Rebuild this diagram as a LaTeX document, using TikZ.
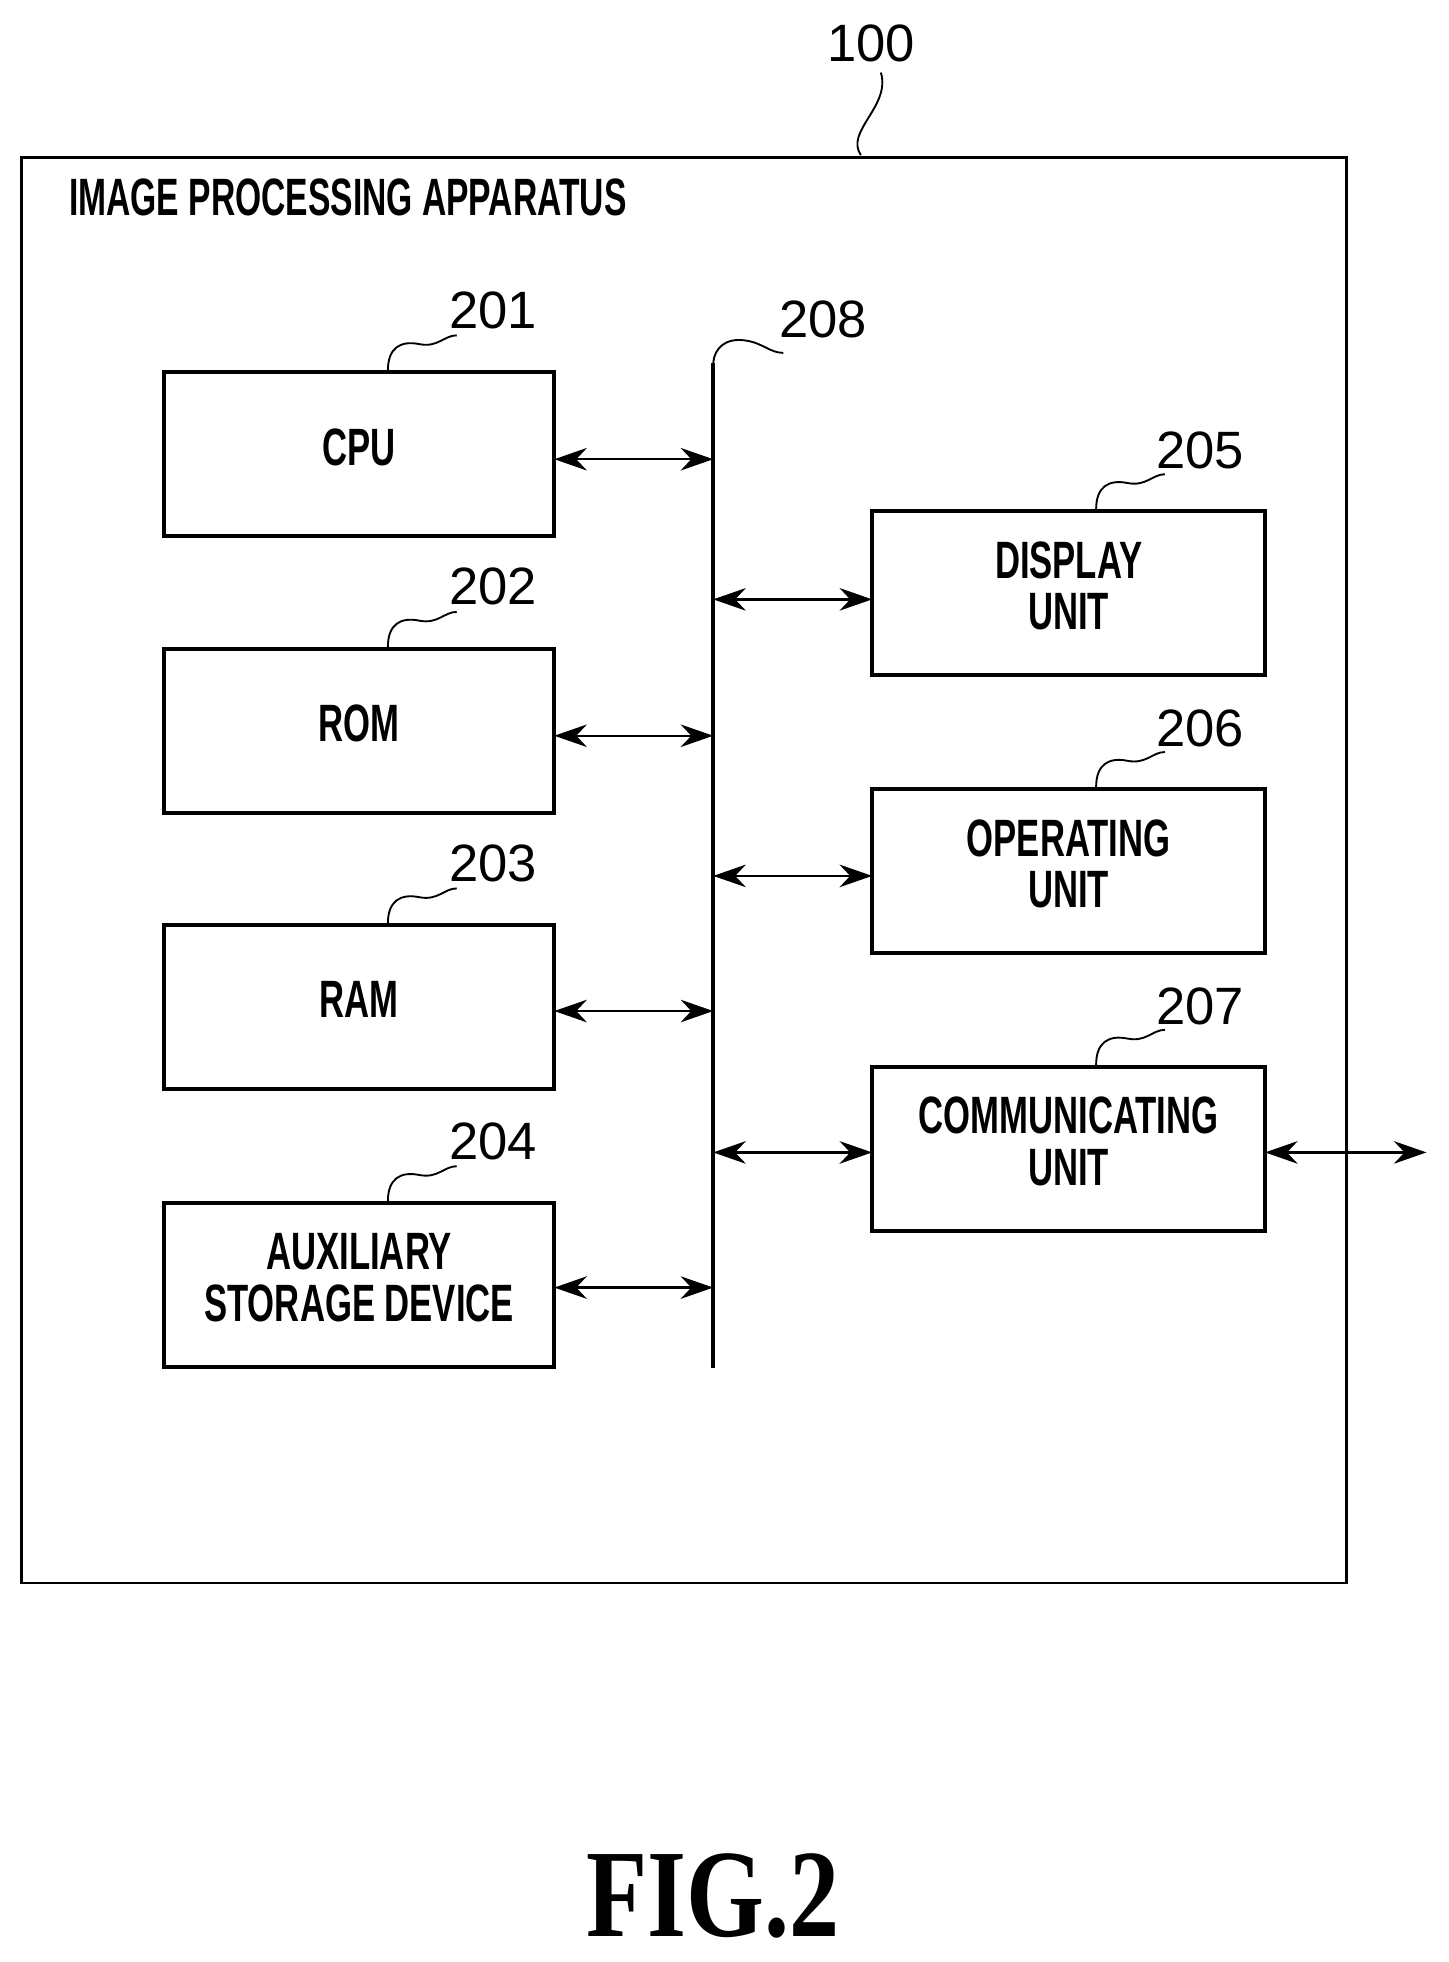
\documentclass[tikz,border=0pt]{standalone}
\usepackage{fontspec}
\setmainfont{Liberation Serif}
\setsansfont{Liberation Sans}
\usetikzlibrary{arrows.meta}
\begin{document}
\begin{tikzpicture}[x=1pt,y=-1pt,
  box/.style={draw,line width=3pt,minimum width=312pt,minimum height=131pt,inner sep=0pt,align=center,font=\sffamily\bfseries\fontsize{42}{40}\selectfont},
  num/.style={font=\sffamily\fontsize{42}{42}\selectfont,inner sep=0pt},
  arr/.style={line width=2pt,{Stealth[length=26pt,width=18pt]}-{Stealth[length=26pt,width=18pt]}},
  sq/.style={line width=1.5pt}]
\useasboundingbox (0,0) rectangle (1158,1568);
\node[draw,line width=2pt,minimum width=1059pt,minimum height=1139pt,inner sep=0pt] (outer) at (546.5,695.5) {};
\node[anchor=west,font=\sffamily\bfseries\fontsize{42}{40}\selectfont,inner sep=0pt] (title) at (55,158) {\scalebox{0.64}[1]{IMAGE PROCESSING APPARATUS}};
\node[num] (n100) at (696,35) {100};
\coordinate (s100) at (688,124);
\draw[sq] (s100) .. controls (675,105) and (712,85) .. (704,58);

\foreach \n/\y/\t/\k/\a in {cpu/363/CPU/201/367, rom/584/ROM/202/588, ram/805/RAM/203/808, aux/1027/{AUXILIARY\\STORAGE DEVICE}/204/1029}{
  \node[box] (\n) at (287,\y) {\scalebox{0.66}[1]{\begin{tabular}{@{}c@{}}\t\end{tabular}}};
  \node[num] (l\n) at (394,\y-115) {\k};
  \draw[sq,shift={(\n.north)},xshift=23pt] (0,0) .. controls (0,-18) and (10,-24) .. (25,-21) .. controls (40,-18) and (45,-28) .. (55,-28);
  \coordinate (a\n) at (443,\a);
  \coordinate (b\n) at (570,\a);
  \draw[arr] (a\n) -- (b\n);
}
\foreach \n/\y/\t/\k/\a in {disp/474/{DISPLAY\\UNIT}/205/479, oper/696/{OPERATING\\UNIT}/206/700, comm/918/{COMMUNICATING\\UNIT}/207/921}{
  \node[box,minimum width=314pt] (\n) at (854,\y) {\scalebox{0.66}[1]{\begin{tabular}{@{}c@{}}\t\end{tabular}}};
  \node[num] (l\n) at (959,\y-114) {\k};
  \draw[sq,shift={(\n.north)},xshift=22pt] (0,0) .. controls (0,-18) and (10,-24) .. (25,-21) .. controls (40,-18) and (45,-28) .. (55,-28);
  \coordinate (a\n) at (570,\a);
  \coordinate (b\n) at (697,\a);
  \draw[arr] (a\n) -- (b\n);
}
\coordinate (bt) at (570,290);
\coordinate (bb) at (570,1093);
\draw[line width=3pt] (bt) -- (bb);
\node[num] (l208) at (658,255) {208};
\draw[sq] (bt) .. controls (571,278) and (580,270) .. (595,272) .. controls (610,274) and (615,282) .. (626,282);
\coordinate (ce) at (1011,921);
\coordinate (ext) at (1140,921);
\draw[arr] (ce) -- (ext);
\node[font=\bfseries\fontsize{100}{100}\selectfont,inner sep=0pt] (fig) at (570,1515) {\scalebox{0.8}[1]{FIG.2}};
\end{tikzpicture}
\end{document}
